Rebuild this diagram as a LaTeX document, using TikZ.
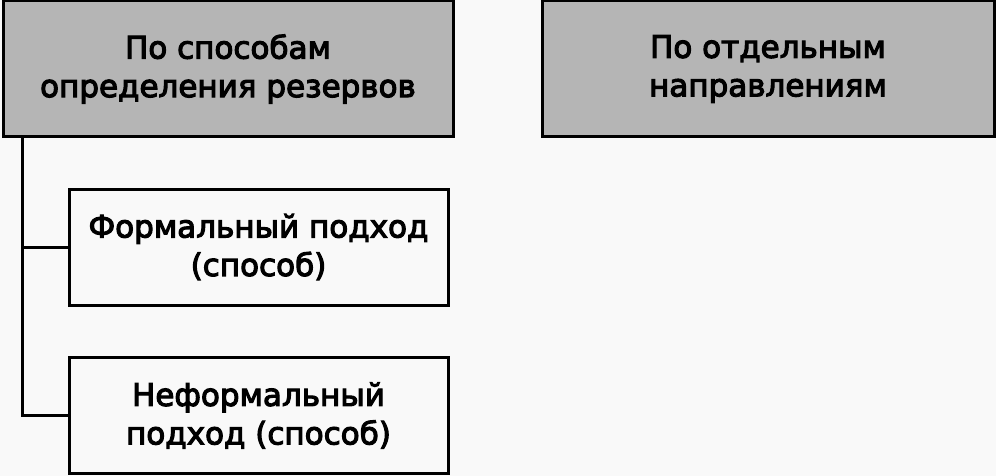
\documentclass[tikz,border=0pt]{standalone}
\usepackage{fontspec}
\setmainfont{DejaVu Sans}
\newfontfamily\boxfont{DejaVu Sans}[FakeBold=3.6]
\usetikzlibrary{positioning}
\definecolor{boxgray}{RGB}{181,181,181}
\definecolor{paper}{RGB}{249,249,249}
\tikzset{
	block/.style={draw, line width=3pt, align=center, inner sep=0pt,
		font=\fontsize{31}{38.5}\boxfont, minimum width=379pt, minimum height=116pt},
	head/.style={block, fill=boxgray, minimum height=136pt},
	link/.style={line width=3pt}
}
\begin{document}
\begin{tikzpicture}[x=1pt, y=-1pt]
		\fill[paper] (0,0) rectangle (996,476);	% Background
		\useasboundingbox (0,0) rectangle (996,476);
		\node[head, minimum width=450pt] (ways) at (228,69) {По способам\\определения резервов};
		\node[head, minimum width=452pt] (areas) at (768,69) {По отдельным\\направлениям};
		\node[block] (formal) at (258.5,247) {Формальный подход\\(способ)};
		\node[block] (informal) at (258.5,415.5) {Неформальный\\подход (способ)};
		\coordinate (trunk) at (22.5,0);
		\draw[link] (ways.south -| trunk) |- (formal.west);
		\draw[link] (ways.south -| trunk) |- (informal.west);
	\end{tikzpicture}
\end{document}
